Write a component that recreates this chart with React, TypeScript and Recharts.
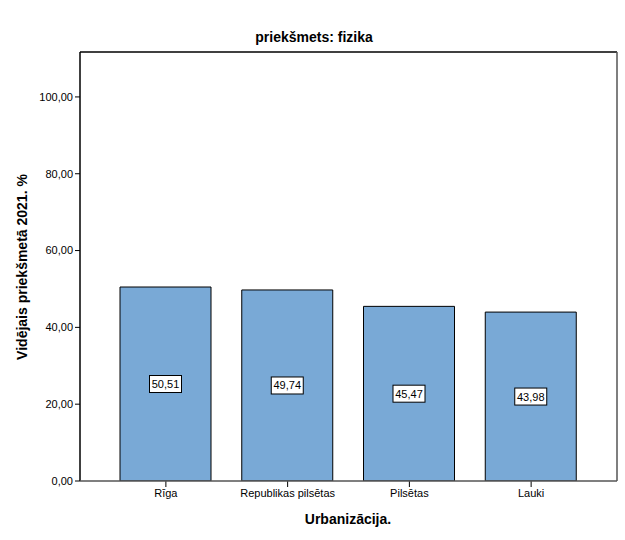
import { BarChart, Bar, XAxis, YAxis, LabelList } from "recharts";

const categories = ["Rīga", "Republikas pilsētas", "Pilsētas", "Lauki"];
const means = [50.51, 49.74, 45.47, 43.98];
const yTicks = [0, 20, 40, 60, 80, 100];
const yMax = 111.7;

const data = categories.map((name, i) => ({ name, value: means[i] }));

const FONT = "'Liberation Sans', Arial, sans-serif";
const fmt = (v: number) => v.toFixed(2).replace(".", ",");

// plot frame (left 80, top 52, right 617, bottom 481)
const PL = 80;
const PT = 52;
const PR = 617;
const PB = 481;

// white boxed value label in the middle of each bar
const BoxLabel = (props: any) => {
  const { x, y, width, height, value } = props;
  const cx = x + width / 2;
  const cy = y + height / 2;
  const w = 32;
  const h = 17;
  return (
    <g>
      <rect x={cx - w / 2} y={cy - h / 2} width={w} height={h} fill="#fff" stroke="#000" strokeWidth={1} />
      <text x={cx} y={cy + 4} textAnchor="middle" fontSize={11} fontFamily={FONT} fill="#000">
        {fmt(value)}
      </text>
    </g>
  );
};

const App = () => {
  return (
    <div style={{ position: "absolute", left: 0, top: 0, width: 625, height: 540, background: "#fff" }}>
      <BarChart
        width={625}
        height={540}
        data={data}
        margin={{ top: PT, right: 625 - PR, bottom: 0, left: 0 }}
        barSize={91}
      >
        <XAxis
          dataKey="name"
          height={540 - PB}
          padding={{ left: 25, right: 25 }}
          axisLine={false}
          tickLine={{ stroke: "#000" }}
          tickSize={6}
          tick={{ fontSize: 11, fill: "#000", fontFamily: FONT }}
          interval={0}
          label={{
            content: () => (
              <text x={348} y={524} textAnchor="middle" fontSize={14} fontWeight="bold" fontFamily={FONT}>
                Urbanizācija.
              </text>
            ),
          }}
        />
        <YAxis
          width={PL}
          domain={[0, yMax]}
          ticks={yTicks}
          tickFormatter={fmt}
          axisLine={false}
          tickLine={{ stroke: "#000" }}
          tickSize={5}
          tick={{ fontSize: 11, fill: "#000", fontFamily: FONT }}
          allowDataOverflow
          label={{
            content: () => (
              <text
                x={27}
                y={267}
                transform="rotate(-90 27 267)"
                textAnchor="middle"
                fontSize={14}
                fontWeight="bold"
                fontFamily={FONT}
              >
                Vidējais priekšmetā 2021. %
              </text>
            ),
          }}
        />
        <Bar dataKey="value" fill="#79A9D6" stroke="#000" strokeWidth={1} isAnimationActive={false}>
          <LabelList dataKey="value" content={BoxLabel} />
        </Bar>
      </BarChart>
      <svg width={625} height={540} style={{ position: "absolute", left: 0, top: 0, pointerEvents: "none" }}>
        <text x={314} y={42} textAnchor="middle" fontSize={14} fontWeight="bold" fontFamily={FONT}>
          priekšmets: fizika
        </text>
        <line x1={PL} y1={PT} x2={PR} y2={PT} stroke="#000" strokeWidth={1.5} />
        <line x1={PL} y1={PT} x2={PL} y2={PB} stroke="#000" strokeWidth={1.5} />
        <line x1={PR} y1={PT} x2={PR} y2={PB} stroke="#555" strokeWidth={1.5} />
        <line x1={PL} y1={PB} x2={PR} y2={PB} stroke="#555" strokeWidth={1.5} />
      </svg>
    </div>
  );
};

export default App;
